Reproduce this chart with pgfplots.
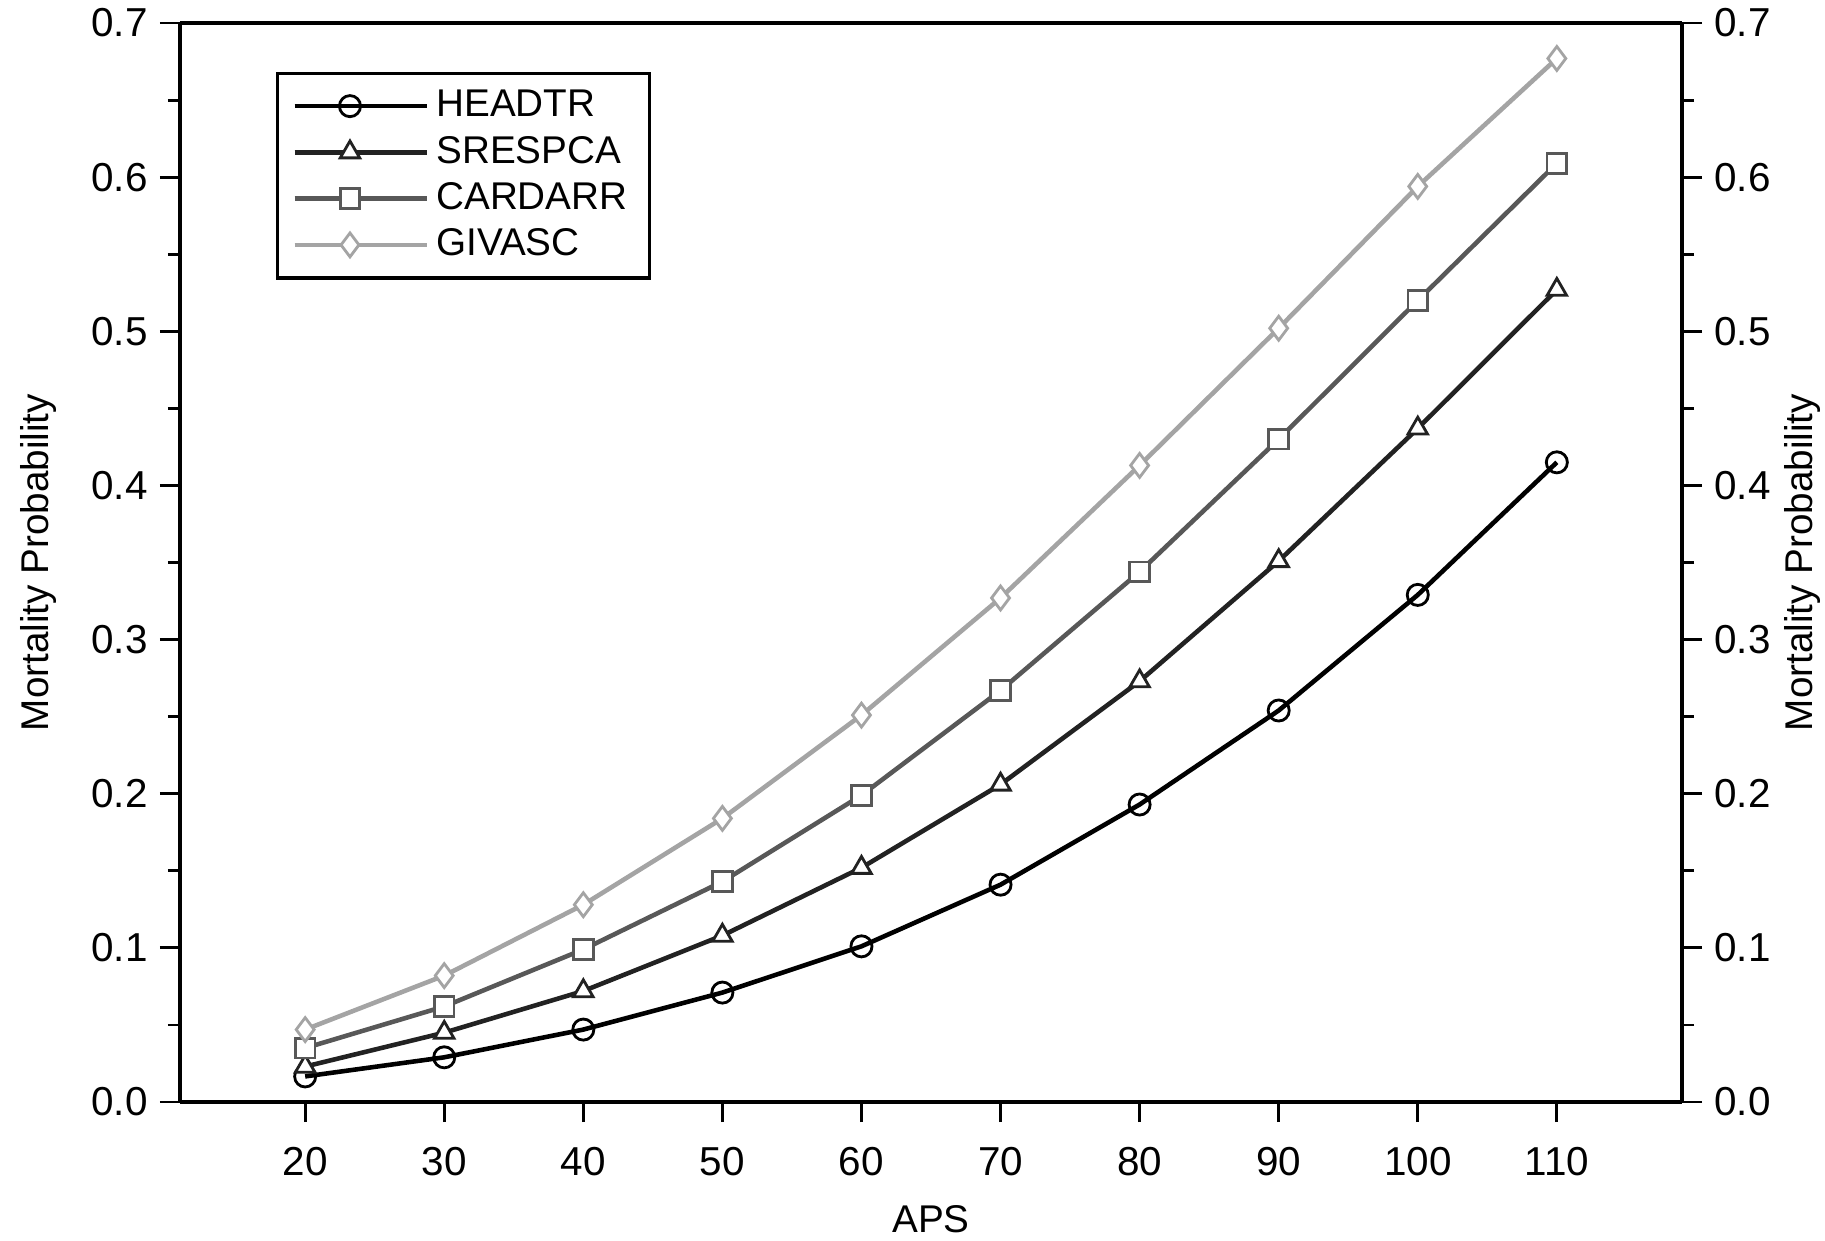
\documentclass[border=0pt]{standalone}
\usepackage{pgfplots}
\pgfplotsset{compat=1.18}
\usepackage{fontspec}
\setmainfont{Liberation Sans}
\definecolor{cA}{HTML}{000000}
\definecolor{cB}{HTML}{222222}
\definecolor{cC}{HTML}{585858}
\definecolor{cD}{HTML}{A4A4A4}
\begin{document}
\begin{tikzpicture}
\path[use as bounding box] (-18mm,-13.8mm) rectangle (164.5mm,110.2mm);
\pgfplotsset{
  common/.style={
    scale only axis, width=150.2mm, height=107.9mm,
    xmin=11, xmax=119, ymin=0, ymax=0.7,
    ytick={0,0.1,...,0.71}, minor ytick={0.05,0.15,...,0.66},
    tick align=outside, major tick length=2mm, minor tick length=1.2mm,
    tick style={black, line width=0.8pt},
    axis line style={line width=0.9pt},
    /pgf/number format/assume math mode=true,
    yticklabel style={/pgf/number format/fixed, /pgf/number format/fixed zerofill, /pgf/number format/precision=1},
    tick label style={font=\fontsize{11.5}{13}\selectfont},
    label style={font=\fontsize{11}{13}\selectfont},
  }
}
\begin{axis}[common,
  axis x line*=bottom, axis y line*=left,
  xtick={20,30,...,110},
  xticklabel style={yshift=-1.3mm},
  xlabel={APS}, ylabel={Mortality Probability},
  xlabel style={at={(axis description cs:0.5,-0.109)}, anchor=center},
  ylabel style={at={(axis description cs:-0.0945,0.5)}, anchor=center, rotate=0},
  legend style={at={(0.064,0.955)}, anchor=north west, draw=black, line width=0.9pt, font=\fontsize{11}{13}\selectfont, row sep=0mm, inner xsep=1.5mm, inner ysep=1.0mm},
  legend cell align=left,
  legend image code/.code={\path (0mm,0mm) -- (13.2mm,0mm); \draw[#1] (0mm,0mm) -- (11mm,0mm); \draw[#1, mark repeat=2, mark phase=2] plot coordinates {(0mm,0mm) (5.5mm,0mm) (11mm,0mm)};},
  every axis plot/.append style={line width=1.3pt},
]
\addplot[cA, mark=o, mark size=3pt, mark options={solid, line width=0.8pt}] coordinates {(20,0.0166) (30,0.029) (40,0.047) (50,0.071) (60,0.101) (70,0.141) (80,0.193) (90,0.254) (100,0.329) (110,0.415)};
\addlegendentry{HEADTR}
\addplot[cB, mark=triangle*, mark size=3.2pt, mark options={solid, fill=white, line width=0.8pt}] coordinates {(20,0.023) (30,0.045) (40,0.072) (50,0.108) (60,0.152) (70,0.206) (80,0.273) (90,0.351) (100,0.437) (110,0.527)};
\addlegendentry{SRESPCA}
\addplot[cC, mark=square*, mark size=2.8pt, mark options={solid, fill=white, line width=0.8pt}] coordinates {(20,0.035) (30,0.062) (40,0.099) (50,0.143) (60,0.199) (70,0.267) (80,0.344) (90,0.430) (100,0.520) (110,0.609)};
\addlegendentry{CARDARR}
\addplot[cD, mark=diamond*, mark size=3.4pt, mark options={solid, fill=white, line width=0.8pt}] coordinates {(20,0.047) (30,0.082) (40,0.128) (50,0.184) (60,0.251) (70,0.327) (80,0.413) (90,0.502) (100,0.594) (110,0.677)};
\addlegendentry{GIVASC}
\end{axis}
\begin{axis}[common,
  axis x line*=top, xtick=\empty,
  axis y line*=right,
  ylabel={Mortality Probability},
  ylabel style={at={(axis description cs:1.080,0.5)}, anchor=center, rotate=0},
]
\end{axis}
\end{tikzpicture}
\end{document}
